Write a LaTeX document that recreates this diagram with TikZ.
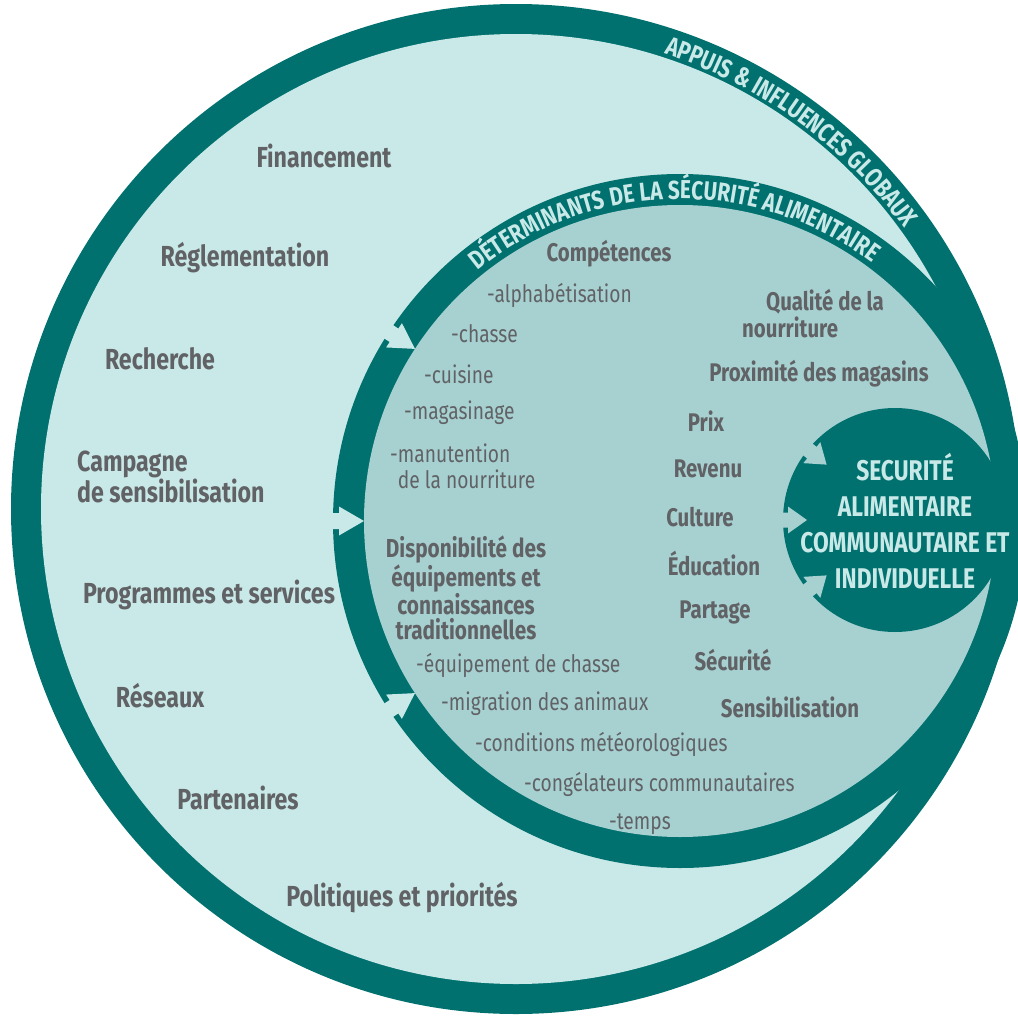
\documentclass[tikz,border=0pt]{standalone}
\usepackage{fontspec}
\setmainfont{Fira Sans}[FakeStretch=0.8]
\usetikzlibrary{decorations.text}
\definecolor{ringteal}{RGB}{0,113,111}
\definecolor{outerfill}{RGB}{201,233,232}
\definecolor{innerfill}{RGB}{167,209,209}
\definecolor{labelgray}{RGB}{97,98,101}

\begin{document}
\begin{tikzpicture}[x=1pt, y=-1pt]
\tikzstyle{support} = [font=\bfseries\fontsize{29}{31}\selectfont, text=labelgray, inner sep=0pt]
\tikzstyle{factor} = [font=\bfseries\fontsize{25.5}{27}\selectfont, text=labelgray, inner sep=0pt]
\tikzstyle{item} = [font=\fontsize{24}{26}\selectfont, text=labelgray, inner sep=0pt, anchor=west, align=left]
\tikzstyle{core} = [font=\bfseries\fontsize{28.5}{36}\selectfont, text=outerfill, inner sep=0pt, align=center]
\tikzstyle{ringtext} = [decorate, decoration={text along path, text color=outerfill}]
\useasboundingbox (0,0) rectangle (1018,1017);
\coordinate (O) at (516,509);
\coordinate (I) at (680,521);
\coordinate (S) at (895,520);
% rings
\fill[ringteal] (O) circle[radius=505pt];
\fill[outerfill] (O) circle[radius=475pt];
\fill[ringteal] (I) circle[radius=347pt];
\fill[innerfill] (I) circle[radius=316pt];
\fill[ringteal] (S) circle[radius=112pt];
% arrows
\foreach \a in {147,180,213}
  \fill[outerfill, shift={(I)}, rotate=\a] (350pt,-8pt) -- (341pt,-8pt) -- (341pt,-14.5pt) -- (316pt,0pt) -- (341pt,14.5pt) -- (341pt,8pt) -- (350pt,8pt) -- cycle;
\foreach \a in {141,180,219}
  \fill[innerfill, shift={(S)}, rotate=\a] (115pt,-7.5pt) -- (107pt,-7.5pt) -- (107pt,-13.5pt) -- (88pt,0pt) -- (107pt,13.5pt) -- (107pt,7.5pt) -- (115pt,7.5pt) -- cycle;
% ring titles
\path[ringtext, decoration={text={|\bfseries\fontsize{26}{26}\selectfont|APPUIS {\&} INFLUENCES GLOBAUX}}]
  ([shift={(72:479pt)}]O) arc[start angle=72, end angle=20, radius=479pt];
\path[ringtext, decoration={text={|\bfseries\fontsize{26}{26}\selectfont|DÉTERMINANTS DE LA SÉCURITÉ ALIMENTAIRE}}]
  ([shift={(129:322pt)}]I) arc[start angle=129, end angle=30, radius=322pt];
% global supports
\node[support] (fin) at (324,156) {Financement};
\node[support] (regl) at (245,258) {Réglementation};
\node[support] (rech) at (160,359) {Recherche};
\node[support, anchor=west, align=left] (camp) at (77,477) {Campagne\\de sensibilisation};
\node[support] (prog) at (209,595) {Programmes et services};
\node[support] (res) at (160,696) {Réseaux};
\node[support] (part) at (238,798) {Partenaires};
\node[support] (pol) at (402,898) {Politiques et priorités};
% determinants
\node[factor] (comp) at (609,254) {Compétences};
\node[item] (alpha) at (487,295) {-alphabétisation};
\node[item] (chasse) at (451,334) {-chasse};
\node[item] (cuis) at (424,374) {-cuisine};
\node[item] (mag) at (404,413) {-magasinage};
\node[item] (manu) at (390,466) {-manutention\\\phantom{-}de la nourriture};
\node[factor, anchor=west, align=left] (qual) at (742,314) {\hspace*{24pt}Qualité de la\\nourriture};
\node[factor] (prox) at (819,374) {Proximité des magasins};
\node[factor] (prix) at (706,421) {Prix};
\node[factor] (rev) at (708,469) {Revenu};
\node[factor] (cult) at (700,517) {Culture};
\node[factor] (educ) at (714,564) {Éducation};
\node[factor] (parta) at (715,612) {Partage};
\node[factor] (secu) at (733,660) {Sécurité};
\node[factor] (sens) at (790,707) {Sensibilisation};
\node[factor, align=center, font=\bfseries\fontsize{26}{25}\selectfont] (dispo) at (466,588) {Disponibilité des\\équipements et\\connaissances\\traditionnelles};
\node[item] (equip) at (416,665) {-équipement de chasse};
\node[item] (migr) at (441,704) {-migration des animaux};
\node[item] (meteo) at (475,744) {-conditions météorologiques};
\node[item] (cong) at (524,784) {-congélateurs communautaires};
\node[item] (temps) at (609,824) {-temps};
% centre
\node[core] (core) at (905,521) {SECURITÉ\\ALIMENTAIRE\\COMMUNAUTAIRE ET\\INDIVIDUELLE};
\end{tikzpicture}
\end{document}
